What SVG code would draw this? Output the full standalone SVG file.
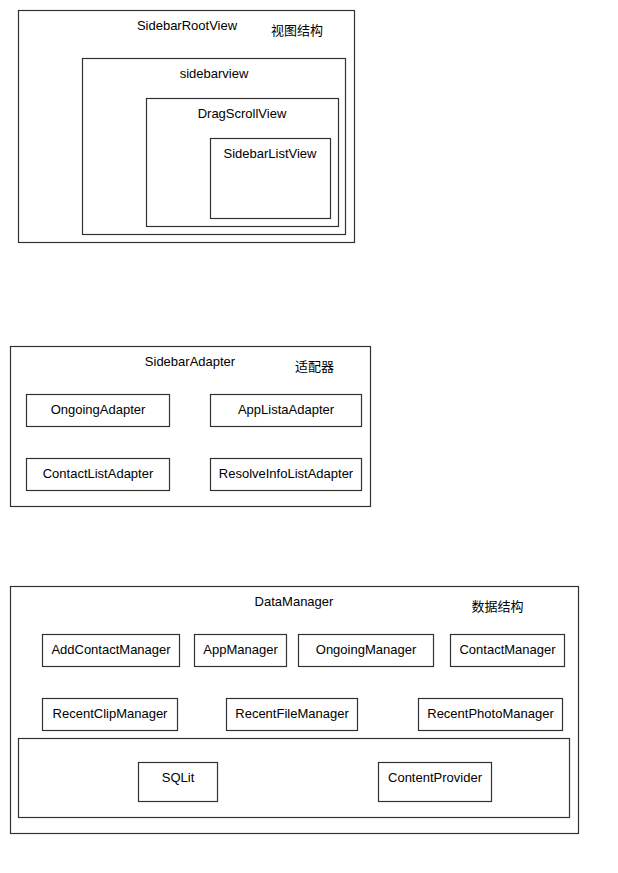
<svg xmlns="http://www.w3.org/2000/svg" width="618" height="873" viewBox="0 0 618 873">
<style>
rect{fill:none;stroke:#333;stroke-width:1.2}
text{font-family:"Liberation Sans","Noto Sans CJK SC",sans-serif;font-size:13px;fill:#000;text-anchor:middle}
.cjk{font-family:"Noto Sans CJK SC","Liberation Sans",sans-serif}
</style>
<rect x="0" y="0" width="618" height="873" style="fill:#fff;stroke:none"/>
<g id="SidebarRootView"><rect x="18.5" y="10.5" width="336" height="232"/><text x="187" y="30">SidebarRootView</text></g>
<g id="label-view"><text class="cjk" x="297" y="35">视图结构</text></g>
<g id="sidebarview"><rect x="82.5" y="58.5" width="263" height="176"/><text x="214" y="78">sidebarview</text></g>
<g id="DragScrollView"><rect x="146.5" y="98.5" width="192" height="128"/><text x="242" y="118">DragScrollView</text></g>
<g id="SidebarListView"><rect x="210.5" y="138.5" width="120" height="80"/><text x="270" y="158">SidebarListView</text></g>

<g id="SidebarAdapter"><rect x="10.5" y="346.5" width="360" height="160"/><text x="190" y="366">SidebarAdapter</text></g>
<g id="label-adapter"><text class="cjk" x="314.5" y="371">适配器</text></g>
<g id="OngoingAdapter"><rect x="26.5" y="394.5" width="143" height="32"/><text x="98" y="414">OngoingAdapter</text></g>
<g id="AppListaAdapter"><rect x="210.5" y="394.5" width="151" height="32"/><text x="286" y="414">AppListaAdapter</text></g>
<g id="ContactListAdapter"><rect x="26.5" y="458.5" width="143" height="32"/><text x="98" y="478">ContactListAdapter</text></g>
<g id="ResolveInfoListAdapter"><rect x="210.5" y="458.5" width="151" height="32"/><text x="286" y="478">ResolveInfoListAdapter</text></g>

<g id="DataManager"><rect x="10.5" y="586.5" width="568" height="247"/><text x="294" y="606">DataManager</text></g>
<g id="label-data"><text class="cjk" x="497.5" y="611">数据结构</text></g>
<g id="AddContactManager"><rect x="42.5" y="634.5" width="137" height="32"/><text x="111" y="654">AddContactManager</text></g>
<g id="AppManager"><rect x="194.5" y="634.5" width="92" height="32"/><text x="240.5" y="654">AppManager</text></g>
<g id="OngoingManager"><rect x="298.5" y="634.5" width="135" height="32"/><text x="366" y="654">OngoingManager</text></g>
<g id="ContactManager"><rect x="450.5" y="634.5" width="114" height="32"/><text x="507.5" y="654">ContactManager</text></g>
<g id="RecentClipManager"><rect x="42.5" y="698.5" width="135" height="32"/><text x="110" y="718">RecentClipManager</text></g>
<g id="RecentFileManager"><rect x="226.5" y="698.5" width="131" height="32"/><text x="292" y="718">RecentFileManager</text></g>
<g id="RecentPhotoManager"><rect x="418.5" y="698.5" width="144" height="32"/><text x="490.5" y="718">RecentPhotoManager</text></g>
<g id="Storage"><rect x="18.5" y="738.5" width="551" height="79"/></g>
<g id="SQLit"><rect x="138.5" y="762.5" width="79" height="39"/><text x="178" y="782">SQLit</text></g>
<g id="ContentProvider"><rect x="378.5" y="762.5" width="113" height="39"/><text x="435" y="782">ContentProvider</text></g>
<g id="connectors"></g>
</svg>
